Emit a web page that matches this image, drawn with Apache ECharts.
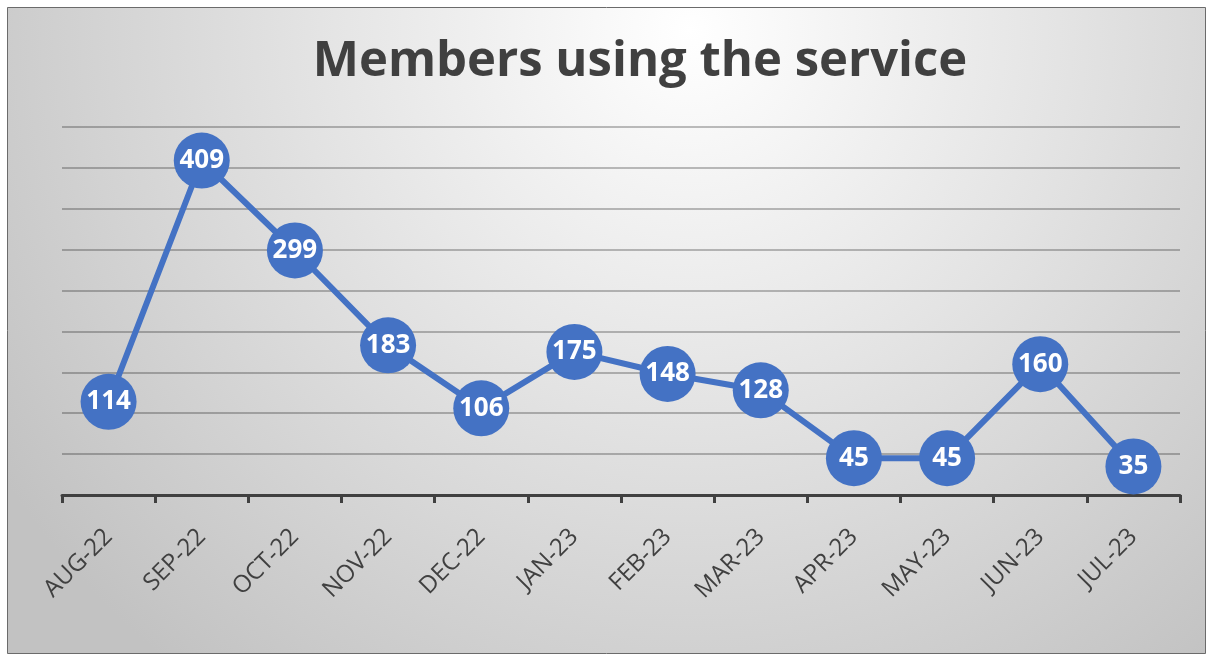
<!DOCTYPE html>
<html>
<head>
<meta charset="utf-8">
<script src="https://cdn.jsdelivr.net/npm/echarts@6/dist/echarts.min.js"></script>
<style>
    html, body { margin: 0; padding: 0; background: #ffffff; }
    #chart { width: 1212px; height: 658px; }
</style>
</head>
<body>
<div id="chart"></div>
<script>
// 月份类目
const months = ['AUG-22', 'SEP-22', 'OCT-22', 'NOV-22', 'DEC-22', 'JAN-23',
                'FEB-23', 'MAR-23', 'APR-23', 'MAY-23', 'JUN-23', 'JUL-23'];
// 使用人数
const members = [114, 409, 299, 183, 106, 175, 148, 128, 45, 45, 160, 35];

const chartTitle = 'Members using the service';

const chartObj = echarts.init(document.getElementById('chart'));

const option = {
    animation: false,
    backgroundColor: '#ffffff',
    graphic: [
        {
            type: 'rect',
            z: -10,
            silent: true,
            shape: { x: 7.5, y: 7.5, width: 1198, height: 646 },
            style: {
                fill: new echarts.graphic.RadialGradient(690, 30, 820, [
                    { offset: 0, color: '#ffffff' },
                    { offset: 0.45, color: '#e4e4e4' },
                    { offset: 1, color: '#c2c2c2' }
                ], true),
                stroke: '#6b6b6b',
                lineWidth: 1
            }
        }
    ],
    title: {
        text: chartTitle,
        left: 635,
        textAlign: 'center',
        top: 33,
        textStyle: {
            fontFamily: 'Open Sans',
            fontWeight: 'bold',
            fontSize: 49,
            color: '#404040'
        }
    },
    grid: {
        left: 62,
        right: 32,
        top: 127,
        bottom: 163
    },
    xAxis: {
        type: 'category',
        data: months,
        boundaryGap: true,
        axisLine: {
            lineStyle: { color: '#404040', width: 3 }
        },
        axisTick: {
            show: true,
            length: 8,
            lineStyle: { color: '#404040', width: 3 }
        },
        axisLabel: {
            rotate: 45,
            margin: 38,
            fontFamily: 'Open Sans',
            fontSize: 24,
            color: '#404040'
        }
    },
    yAxis: {
        type: 'value',
        min: 0,
        max: 450,
        interval: 50,
        axisLabel: { show: false },
        axisLine: { show: false },
        axisTick: { show: false },
        splitLine: {
            show: true,
            lineStyle: { color: 'rgba(0,0,0,0.25)', width: 2 }
        }
    },
    series: [
        {
            type: 'line',
            data: members,
            symbol: 'circle',
            symbolSize: 56,
            itemStyle: { color: '#4472c4' },
            lineStyle: { color: '#4472c4', width: 6 },
            label: {
                show: true,
                position: 'inside',
                fontFamily: 'Open Sans',
                fontWeight: 'bold',
                fontSize: 26,
                color: '#ffffff'
            }
        }
    ]
};

chartObj.setOption(option);
</script>
</body>
</html>
